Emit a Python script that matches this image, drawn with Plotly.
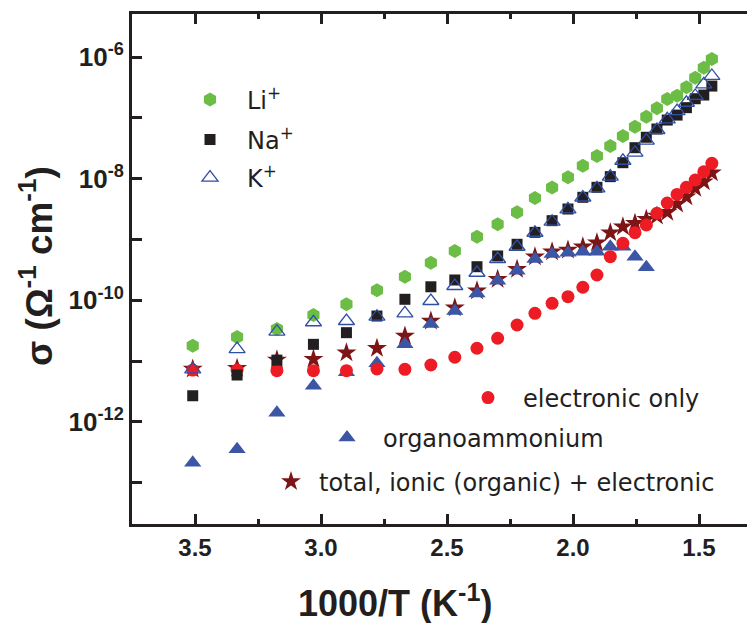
import plotly.graph_objects as go

# 1000/T (K^-1) for the measured temperatures
inv_T = [3.509, 3.333, 3.175, 3.030, 2.899, 2.778, 2.667, 2.564, 2.469, 2.381,
         2.299, 2.222, 2.151, 2.083, 2.020, 1.961, 1.905, 1.852, 1.802, 1.754,
         1.709, 1.667, 1.626, 1.587, 1.550, 1.515, 1.481, 1.449]

sigma_li = [1.79e-11, 2.49e-11, 3.37e-11, 5.74e-11, 8.61e-11, 1.46e-10, 2.44e-10, 4.15e-10,
            6.47e-10, 1.11e-9, 1.78e-9, 2.80e-9, 4.81e-9, 7.16e-9, 1.06e-8, 1.63e-8,
            2.36e-8, 3.44e-8, 5.02e-8, 7.14e-8, 1.04e-7, 1.44e-7, 2.04e-7, 2.31e-7,
            3.18e-7, 4.57e-7, 6.67e-7, 9.27e-7]
sigma_na = [2.70e-12, 5.92e-12, 1.04e-11, 1.89e-11, 2.94e-11, 5.52e-11, 1.04e-10, 1.67e-10,
            2.16e-10, 3.57e-10, 5.36e-10, 8.34e-10, 1.31e-9, 2.04e-9, 3.17e-9, 4.94e-9,
            7.21e-9, 1.08e-8, 1.83e-8, 3.23e-8, 4.79e-8, 6.55e-8, 9.20e-8, 1.11e-7,
            1.47e-7, 2.06e-7, 2.37e-7, 3.33e-7]
sigma_k = [7.35e-12, 1.58e-11, 3.05e-11, 4.36e-11, 4.57e-11, 5.38e-11, 6.12e-11, 9.75e-11,
           1.72e-10, 2.84e-10, 4.78e-10, 7.60e-10, 1.29e-9, 1.96e-9, 3.13e-9, 4.90e-9,
           6.95e-9, 1.08e-8, 1.97e-8, 2.67e-8, 4.21e-8, 6.31e-8, 9.46e-8, 1.29e-7,
           1.77e-7, 2.29e-7, 3.56e-7, 4.88e-7]
sigma_electronic = [7.14e-12, 7.14e-12, 6.97e-12, 6.97e-12, 6.97e-12, 7.43e-12, 7.35e-12, 8.65e-12,
                    1.16e-11, 1.63e-11, 2.38e-11, 3.93e-11, 6.12e-11, 8.93e-11, 1.15e-10, 1.64e-10,
                    2.61e-10, 5.21e-10, 8.65e-10, 1.29e-9, 1.73e-9, 2.70e-9, 3.98e-9, 5.50e-9,
                    7.21e-9, 9.51e-9, 1.30e-8, 1.79e-8]
inv_T_organo = inv_T[:21]
sigma_organo = [2.14e-13, 3.56e-13, 1.42e-12, 3.94e-12, 6.56e-12, 9.23e-12, 1.89e-11, 4.08e-11,
                6.67e-11, 1.30e-10, 2.10e-10, 3.07e-10, 4.78e-10, 5.77e-10, 6.07e-10, 6.30e-10,
                6.30e-10, 7.60e-10, 7.60e-10, 5.21e-10, 3.49e-10]
sigma_total = [7.43e-12, 7.62e-12, 1.05e-11, 1.08e-11, 1.38e-11, 1.63e-11, 2.59e-11, 4.57e-11,
               7.57e-11, 1.44e-10, 2.22e-10, 3.24e-10, 5.21e-10, 6.30e-10, 6.71e-10, 7.60e-10,
               8.85e-10, 1.29e-9, 1.62e-9, 1.85e-9, 2.15e-9, 2.43e-9, 2.80e-9, 3.83e-9,
               5.05e-9, 6.95e-9, 8.91e-9, 1.25e-8]

x_tickvals = [3.5, 3.0, 2.5, 2.0, 1.5]
x_ticktext = ["3.5", "3.0", "2.5", "2.0", "1.5"]
x_minor = [3.25, 2.75, 2.25, 1.75]
y_tickvals = [1e-12, 1e-10, 1e-8, 1e-6]
y_ticktext = ["10<sup>-12</sup>", "10<sup>-10</sup>", "10<sup>-8</sup>", "10<sup>-6</sup>"]
y_minor = [1e-13, 1e-11, 1e-9, 1e-7]

INK = "#231f20"
ARIAL = "Liberation Sans, Arial, sans-serif"
LEGFONT = dict(family="DejaVu Sans, sans-serif", size=24, color=INK)

# the page body adds an 8 px offset; figure coords = screen coords - 8
OFF = 8
W, H = 755, 623
L, R, T, B = 124, 1, 6, 107
PW, PH = W - L - R, H - T - B


def px_x(p):
    return (p - OFF - L) / PW


def px_y(p):
    return (H - B - (p - OFF)) / PH


fig = go.Figure()
fig.add_trace(go.Scatter(x=inv_T, y=sigma_total, mode="markers", name="total, ionic (organic) + electronic",
                         marker=dict(symbol="star", size=15, color="#7d1517"), legend="legend6"))
fig.add_trace(go.Scatter(x=inv_T_organo, y=sigma_organo, mode="markers", name="organoammonium",
                         marker=dict(symbol="triangle-up", size=15, color="#3a56a5"), legend="legend5"))
fig.add_trace(go.Scatter(x=inv_T, y=sigma_electronic, mode="markers", name="electronic only",
                         marker=dict(symbol="circle", size=13, color="#ed1c24"), legend="legend4"))
fig.add_trace(go.Scatter(x=inv_T, y=sigma_na, mode="markers", name="Na<sup>+</sup>",
                         marker=dict(symbol="square", size=11, color=INK), legend="legend2"))
fig.add_trace(go.Scatter(x=inv_T, y=sigma_li, mode="markers", name="Li<sup>+</sup>",
                         marker=dict(symbol="hexagon", size=14, color="#6cbd45"), legend="legend"))
fig.add_trace(go.Scatter(x=inv_T, y=sigma_k, mode="markers", name="K<sup>+</sup>",
                         marker=dict(symbol="triangle-up-open", size=14, color="#2f4fa2",
                                     line=dict(width=1.3)), legend="legend3"))


def leg(marker_px, marker_py, gap):
    iw = max(30, 2 * gap - 10)
    center = (iw + 10) / 2
    return dict(x=px_x(marker_px - center), y=px_y(marker_py), xanchor="left", yanchor="middle",
                bgcolor="rgba(0,0,0,0)", borderwidth=0, font=LEGFONT, itemwidth=iw)


fig.update_layout(
    width=W, height=H,
    margin=dict(l=L, r=R, t=T, b=B, pad=0, autoexpand=False),
    paper_bgcolor="white", plot_bgcolor="white",
    showlegend=True,
    legend=leg(210, 100, 37),
    legend2=leg(210, 140, 37),
    legend3=leg(210, 178, 37),
    legend4=leg(488, 398, 35),
    legend5=leg(347, 438, 36),
    legend6=leg(291, 482, 28),
)

fig.update_xaxes(
    range=[3.75, 1.25], showgrid=False, zeroline=False,
    showline=True, linewidth=3, linecolor=INK, mirror="ticks",
    ticks="inside", ticklen=10, tickwidth=2.5, tickcolor=INK,
    tickmode="array", tickvals=x_tickvals, ticktext=x_ticktext,
    tickfont=dict(family=ARIAL, size=24, color=INK, weight="bold"),
    minor=dict(tickmode="array", tickvals=x_minor, ticks="inside", ticklen=5, tickwidth=2.5, tickcolor=INK),
)
fig.update_yaxes(
    type="log", range=[-13.677, -5.293], showgrid=False, zeroline=False,
    showline=True, linewidth=3, linecolor=INK, mirror="ticks",
    ticks="inside", ticklen=10, tickwidth=2.5, tickcolor=INK,
    tickmode="array", tickvals=y_tickvals, ticktext=y_ticktext,
    tickfont=dict(family=ARIAL, size=26, color=INK, weight="bold"),
    minor=dict(tickmode="array", tickvals=y_minor, ticks="inside", ticklen=10, tickwidth=2.5, tickcolor=INK),
)

fig.add_annotation(text="σ (Ω<sup>-1</sup> cm<sup>-1</sup>)", textangle=-90, xref="paper", yref="paper",
                   x=px_x(36), y=px_y(266), xanchor="center", yanchor="middle", showarrow=False,
                   font=dict(family=ARIAL, size=37, color=INK, weight="bold"))
fig.add_annotation(text="1000/T (K<sup>-1</sup>)", xref="paper", yref="paper",
                   x=px_x(395), y=px_y(601), xanchor="center", yanchor="middle", showarrow=False,
                   font=dict(family=ARIAL, size=36, color=INK, weight="bold"))

fig.write_html("out.html")
